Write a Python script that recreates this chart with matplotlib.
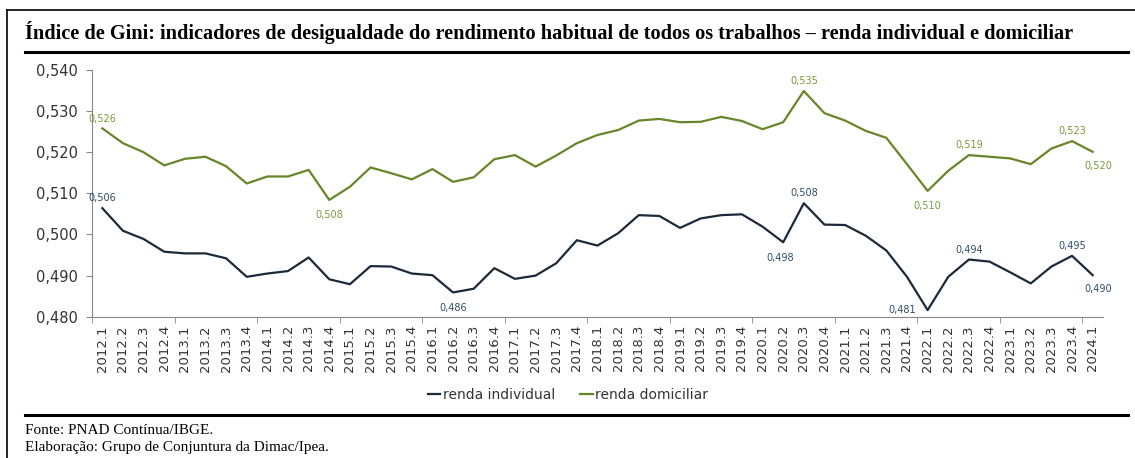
import matplotlib
matplotlib.use("Agg")
import matplotlib.pyplot as plt
from matplotlib.lines import Line2D
from matplotlib.ticker import FuncFormatter, FixedLocator

quarters = [f"{y}.{q}" for y in range(2012, 2024) for q in range(1, 5)] + ["2024.1"]

renda_individual = [
    0.5064, 0.5009, 0.4989, 0.4958, 0.4954, 0.4954, 0.4942, 0.4897, 0.4905, 0.4911,
    0.4944, 0.4891, 0.4879, 0.4923, 0.4922, 0.4905, 0.4901, 0.4859, 0.4868, 0.4918,
    0.4892, 0.4900, 0.4930, 0.4986, 0.4973, 0.5003, 0.5047, 0.5045, 0.5016, 0.5039,
    0.5047, 0.5049, 0.5019, 0.4981, 0.5076, 0.5024, 0.5023, 0.4997, 0.4961, 0.4897,
    0.4816, 0.4897, 0.4939, 0.4934, 0.4908, 0.4881, 0.4922, 0.4948, 0.4901,
]
renda_domiciliar = [
    0.5258, 0.5222, 0.5200, 0.5168, 0.5184, 0.5189, 0.5166, 0.5124, 0.5141, 0.5141,
    0.5157, 0.5084, 0.5116, 0.5163, 0.5149, 0.5134, 0.5159, 0.5128, 0.5139, 0.5183,
    0.5193, 0.5165, 0.5192, 0.5222, 0.5242, 0.5254, 0.5277, 0.5281, 0.5273, 0.5274,
    0.5286, 0.5276, 0.5256, 0.5273, 0.5349, 0.5295, 0.5277, 0.5252, 0.5235, 0.5171,
    0.5106, 0.5155, 0.5193, 0.5189, 0.5185, 0.5171, 0.5209, 0.5227, 0.5201,
]

# labelled points: index -> (text, dx, dy) offsets in points
ind_labels = {0: ("0,506", 0, 7), 17: ("0,486", 0, -11), 33: ("0,498", -2, -11),
              34: ("0,508", 0, 7), 40: ("0,481", -18, 0), 42: ("0,494", 0, 7),
              47: ("0,495", 0, 7), 48: ("0,490", 4, -10)}
dom_labels = {0: ("0,526", 0, 7), 11: ("0,508", 0, -11), 34: ("0,535", 0, 7),
              40: ("0,510", 0, -11), 42: ("0,519", 0, 7), 47: ("0,523", 0, 7),
              48: ("0,520", 4, -10)}

W, H = 1135, 458
fig = plt.figure(figsize=(W / 100, H / 100), dpi=100)
ax = fig.add_axes([92 / W, 1 - 316.7 / H, (1103 - 92) / W, (316.7 - 70) / H])

c_ind, c_ind_lab = "#1b2a3a", "#2f4d68"
c_dom, c_dom_lab = "#67862a", "#7a9a38"

x = list(range(len(quarters)))
ax.plot(x, renda_individual, color=c_ind, lw=1.6, label="renda individual")
ax.plot(x, renda_domiciliar, color=c_dom, lw=1.6, label="renda domiciliar")

for series, labs, col in ((renda_individual, ind_labels, c_ind_lab),
                          (renda_domiciliar, dom_labels, c_dom_lab)):
    for i, (t, dx, dy) in labs.items():
        ax.annotate(t, (i, series[i]), xytext=(dx, dy), textcoords="offset points",
                    ha="center", va="center", fontsize=7, color=col)

ax.set_xlim(-0.5, len(quarters) - 0.5)
ax.set_ylim(0.480, 0.540)
ax.set_yticks([0.48 + 0.01 * k for k in range(7)])
ax.yaxis.set_major_formatter(FuncFormatter(lambda v, p: f"{v:.3f}".replace(".", ",")))
ax.tick_params(axis="y", labelsize=10.5, length=4, color="#888888", labelcolor="#333333", pad=6)

ax.set_xticks(x)
ax.set_xticklabels(quarters, rotation=90, fontsize=9.5, color="#333333")
ax.tick_params(axis="x", which="major", length=0, pad=6)
ax.xaxis.set_minor_locator(FixedLocator([-0.5 + 4 * k for k in range(13)]))
ax.tick_params(axis="x", which="minor", length=4, color="#888888")

for s in ("top", "right"):
    ax.spines[s].set_visible(False)
for s in ("left", "bottom"):
    ax.spines[s].set_color("#888888")

fig.legend(loc="center", bbox_to_anchor=(568 / W, 1 - 395 / H), ncol=2, frameon=False,
           fontsize=10, handlelength=0.9, handletextpad=0.2, columnspacing=1.8,
           labelcolor="#333333")

fig.text(25 / W, 1 - 32 / H,
         "Índice de Gini: indicadores de desigualdade do rendimento habitual de todos os trabalhos – renda individual e domiciliar",
         family="Liberation Serif", fontweight="bold", fontsize=14.6, va="center", ha="left")
fig.text(25 / W, 1 - 431 / H, "Fonte: PNAD Contínua/IBGE.", family="Liberation Serif",
         fontsize=11, va="center", ha="left")
fig.text(25 / W, 1 - 448 / H, "Elaboração: Grupo de Conjuntura da Dimac/Ipea.",
         family="Liberation Serif", fontsize=11, va="center", ha="left")

def fline(x0, y0, x1, y1, lw):
    fig.add_artist(Line2D([x0 / W, x1 / W], [1 - y0 / H, 1 - y1 / H], color="black", lw=lw,
                          transform=fig.transFigure))

fline(7, 10, W, 10, 1.2)
fline(7, 10, 7, H, 1.2)
fline(25, 52, 1128, 52, 2.2)
fline(25, 415, 1128, 415, 2.2)

fig.savefig("out.png", dpi=100)
